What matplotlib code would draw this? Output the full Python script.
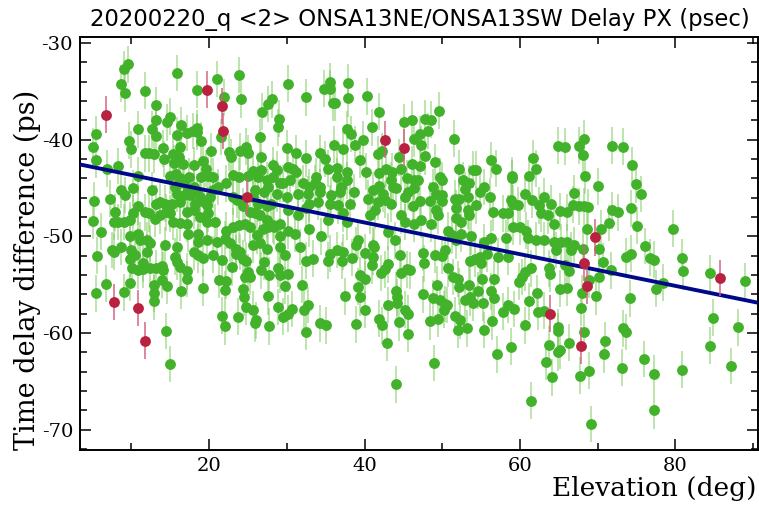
import matplotlib
matplotlib.use("Agg")
import matplotlib.pyplot as plt
import numpy as np
from matplotlib.ticker import MultipleLocator

plt.rcParams["axes.unicode_minus"] = False

# accepted points: elevation (deg) and delay difference (ps)
elev_ok = [
    9.6, 9.1, 8.7, 9.2, 11.8, 15.9, 18.4, 21.0, 21.9, 23.8, 24.1, 30.1, 32.5, 26.8, 27.6, 28.1, 29.0, 28.9,
    13.2, 13.1, 14.6, 15.0, 16.4, 10.9, 12.7, 13.1, 15.8, 16.2, 17.2, 17.9, 18.4, 18.5, 18.9, 20.3, 21.5,
    5.4, 5.0, 9.7, 9.9, 11.7, 12.3, 12.9, 14.0, 14.2, 15.3, 15.5, 16.1, 16.6, 18.1, 19.2, 19.6, 20.5,
    22.6, 22.8, 24.0, 24.7, 25.0, 26.6, 26.7, 30.0, 31.2, 32.5, 5.5, 6.9, 8.3, 10.8, 15.0, 15.7, 16.2,
    17.4, 18.9, 19.9, 23.1, 23.9, 25.0, 25.7, 26.3, 26.7, 28.2, 28.7, 28.2, 29.5, 30.2, 30.8, 31.2, 30.4,
    32.1, 31.4, 30.0, 29.1, 27.4, 27.6, 27.0, 25.9, 25.7, 26.3, 27.4, 28.0, 28.7, 32.5, 31.4, 30.2, 29.1,
    28.4, 27.4, 26.5, 25.9, 25.2, 24.4, 23.6, 23.1, 22.2, 21.2, 20.5, 20.1, 19.4, 18.8, 18.4, 18.0, 17.3,
    16.7, 16.1, 15.6, 15.8, 16.7, 17.5, 18.2, 19.7, 19.9, 20.7, 19.7, 18.8, 18.0, 17.1, 16.2, 15.2, 14.3,
    13.7, 13.2, 12.6, 10.2, 9.2, 8.7, 7.2, 5.2, 7.9, 7.7, 8.3, 9.0, 9.8, 10.2, 10.9, 11.7, 12.2, 13.0,
    13.7, 14.5, 15.0, 15.4, 16.2, 17.1, 17.3, 18.6, 18.6, 19.7, 21.0, 22.0, 22.2, 23.1, 23.9, 24.6, 25.2,
    26.1, 26.9, 27.6, 28.2, 29.1, 30.2, 31.0, 31.7, 5.1, 6.1, 7.5, 8.7, 9.8, 10.9, 11.1, 12.0, 12.4,
    14.3, 15.8, 22.7, 23.5, 25.7, 26.5, 27.4,
    # lower left
    5.6, 7.7, 10.0, 9.8, 10.5, 12.0, 15.6, 15.8, 16.2, 17.1, 17.1, 18.0, 18.6, 19.2, 20.5, 21.7, 23.5,
    24.0, 24.4, 24.8, 10.1, 10.9, 11.5, 11.5, 12.4, 13.2, 13.9, 14.0, 13.9, 12.9, 14.6, 12.9, 12.9, 9.8,
    9.1, 6.7, 5.4, 16.4, 19.2, 21.3, 22.2, 22.0, 23.0, 25.0, 24.6, 25.3, 24.4, 24.5, 24.7, 25.6, 26.0,
    25.9, 23.7, 21.7, 22.0, 27.7, 27.6, 27.7, 26.7, 27.0, 28.8, 29.1, 30.2, 29.7, 32.4, 32.0, 29.8, 28.9,
    29.5, 30.2, 30.7, 32.2, 32.7, 32.5, 14.5, 14.9, 29.1,
    # upper middle
    35.6, 36.2, 34.8, 35.5, 36.0, 37.9, 37.9, 40.3, 41.8, 41.0, 37.7, 38.3, 38.8, 39.8, 36.1, 37.2, 34.2,
    34.9, 39.4, 41.7, 42.2, 45.1, 46.1, 47.8, 48.5, 48.2, 47.1, 46.3, 47.3, 47.8, 49.6, 51.5, 49.1, 46.1,
    47.1, 44.4, 44.7, 45.5, 46.4, 43.5, 42.7, 41.9, 40.2, 37.7, 36.4, 35.3, 33.8, 33.6, 32.9, 34.2, 36.4,
    37.0, 37.7, 38.7, 36.8, 35.7, 35.5, 34.0, 32.9, 36.6, 38.1, 40.4, 41.1, 41.9, 42.4, 43.4, 43.7, 44.1,
    42.6, 43.4, 45.2, 45.6, 46.4, 46.9, 48.8, 49.2, 49.9, 49.7, 50.0, 48.4, 49.2, 49.9, 51.6, 52.2, 52.2,
    53.9, 54.4, 52.7, 53.5, 52.9, 53.3, 54.8, 55.4, 54.4, 51.8, 51.8, 52.4, 53.3, 53.5, 56.1, 56.3, 56.9,
    59.0, 59.0, 58.9, 59.1, 59.7, 60.6, 61.2, 61.7, 56.5, 57.8, 58.5, 59.1, 60.0, 60.8, 61.0, 58.2, 56.3,
    55.4, 53.7, 52.4, 51.2, 50.7, 49.4, 48.6, 47.3, 46.4, 45.2, 44.7, 43.0, 43.9, 41.1, 39.2, 38.9, 37.7,
    37.2, 35.3, 34.4, 32.8, 32.7, 34.2, 40.7, 41.3, 41.7, 46.2, 47.1, 51.8,
    # lower middle
    33.4, 34.2, 35.0, 35.5, 35.3, 36.5, 37.2, 37.1, 38.4, 40.1, 41.1, 41.0, 41.2, 39.4, 40.0, 39.2, 39.4,
    37.5, 40.1, 38.9, 42.1, 42.6, 43.0, 41.9, 42.3, 42.9, 43.0, 44.1, 44.2, 44.2, 44.4, 45.2, 45.6, 45.6,
    44.6, 44.7, 45.4, 45.9, 47.5, 47.7, 47.5, 48.8, 49.3, 49.7, 50.3, 50.2, 50.6, 48.4, 49.4, 49.0, 49.9,
    50.3, 50.8, 51.4, 52.0, 52.1, 51.7, 52.3, 52.0, 53.2, 53.5, 52.9, 53.6, 53.9, 54.6, 55.0, 55.1, 55.2,
    53.6, 54.2, 54.8, 55.7, 56.3, 56.7, 56.6, 57.2, 58.4, 57.8, 58.5, 59.2, 59.9, 60.2, 60.6, 61.4, 61.2,
    60.7, 57.1, 58.9, 55.4, 56.4, 48.9, 44.1, 61.4,
    # upper right
    64.9, 65.8, 67.6, 68.2, 68.1, 68.4, 71.8, 73.3, 74.4, 74.9, 75.6, 70.0, 62.0, 63.1, 64.0, 61.6, 62.5,
    62.7, 63.6, 65.1, 66.1, 66.8, 67.6, 68.3, 68.8, 66.9, 64.4, 68.6, 70.4, 71.5, 71.9, 72.6, 74.3, 75.0,
    76.1, 79.7, 62.1, 63.1, 64.4, 65.3, 66.1, 67.0, 68.1, 70.2,
    # lower right
    62.2, 62.3, 63.1, 63.7, 63.9, 65.2, 66.1, 66.3, 65.8, 66.6, 64.6, 70.7, 71.7, 70.2, 69.8, 68.9, 68.0,
    67.9, 68.3, 64.9, 64.9, 63.7, 63.4, 64.1, 64.9, 65.2, 66.3, 67.7, 68.9, 70.9, 70.8, 73.1, 73.2, 73.6,
    74.2, 73.7, 74.3, 76.7, 77.3, 77.5, 78.4, 76.0, 77.2, 77.2, 80.8, 81.0, 80.9, 84.4, 84.8, 84.4, 87.1,
    88.1, 88.9, 69.1,
]
delay_ok = [
    -32.2, -32.7, -34.2, -35.2, -34.9, -33.1, -34.8, -33.7, -35.6, -33.3, -35.8, -34.2, -35.6, -37.1, -36.3, -35.8, -37.8, -38.7,
    -36.4, -38.0, -38.2, -37.6, -38.5, -38.9, -38.9, -39.6, -39.5, -40.7, -39.3, -39.1, -38.8, -39.2, -40.1, -41.2, -39.7,
    -39.4, -40.7, -40.1, -41.0, -41.4, -41.4, -41.5, -40.9, -42.0, -41.5, -42.4, -41.8, -42.5, -42.6, -42.2, -43.0, -43.8,
    -41.3, -41.8, -41.2, -40.7, -41.4, -39.7, -41.8, -40.9, -41.4, -41.9, -42.1, -43.0, -42.7, -43.7, -43.7, -43.5, -44.0,
    -43.8, -43.9, -43.7, -43.6, -43.8, -43.7, -43.2, -43.8, -43.1, -42.6, -43.1, -43.8, -44.5, -42.8, -43.0, -43.3, -44.2,
    -44.5, -45.6, -45.9, -44.5, -44.2, -44.9, -45.4, -45.2, -45.9, -46.6, -46.9, -46.6, -45.6, -47.1, -47.8, -47.3, -48.7,
    -49.0, -48.3, -47.8, -47.6, -47.5, -46.9, -46.2, -45.9, -44.5, -44.9, -45.2, -45.9, -46.4, -45.9, -45.4, -44.9, -45.2,
    -44.5, -44.5, -44.9, -45.6, -45.7, -45.7, -46.6, -46.8, -47.6, -48.5, -48.5, -48.0, -47.3, -47.5, -46.4, -46.6, -46.6,
    -46.4, -46.6, -45.2, -45.0, -45.7, -45.2, -46.1, -46.3, -47.5, -48.5, -48.5, -48.5, -48.3, -47.6, -46.9, -47.5, -47.6, -48.2,
    -47.8, -47.5, -47.6, -48.5, -48.6, -48.7, -49.7, -49.7, -50.6, -50.4, -50.6, -50.3, -49.4, -49.0, -48.8, -48.7, -49.0,
    -49.9, -49.2, -49.0, -48.8, -50.0, -49.4, -49.7, -51.1, -48.4, -49.5, -51.4, -51.1, -50.0, -49.7, -50.4, -50.4, -50.7,
    -50.9, -51.1, -50.7, -51.3, -50.9, -50.7, -51.3,
    # lower left
    -52.0, -51.6, -51.4, -52.3, -51.9, -51.6, -52.1, -52.6, -53.2, -53.6, -54.4, -51.6, -51.9, -52.2, -51.9, -52.4, -51.8,
    -51.6, -52.3, -52.5, -53.3, -53.5, -52.8, -53.4, -53.3, -53.3, -53.1, -53.5, -54.5, -55.0, -55.1, -55.9, -56.7, -54.8,
    -55.8, -54.9, -55.9, -55.6, -55.3, -54.5, -54.6, -55.5, -53.2, -53.7, -54.2, -54.2, -55.4, -56.3, -57.3, -57.6, -58.7,
    -59.0, -58.3, -58.2, -59.3, -59.3, -56.2, -54.0, -53.5, -52.6, -53.3, -54.0, -53.9, -51.9, -52.5, -55.0, -55.1, -57.3,
    -58.3, -58.0, -57.5, -57.6, -57.1, -59.9, -59.8, -63.2, -51.1,
    # upper middle
    -34.7, -36.2, -34.7, -34.0, -36.2, -34.1, -35.7, -35.5, -37.1, -38.7, -38.9, -39.4, -40.5, -40.0, -40.5, -41.0, -41.4,
    -42.0, -42.1, -41.5, -41.2, -38.2, -37.9, -37.8, -37.9, -39.1, -39.4, -39.9, -40.5, -41.7, -37.0, -39.9, -42.3, -42.5,
    -42.7, -41.8, -43.0, -44.0, -44.2, -43.3, -43.0, -43.4, -43.3, -43.3, -42.9, -43.0, -43.8, -44.5, -44.9, -44.9, -43.8,
    -44.9, -44.2, -45.4, -45.4, -45.7, -46.6, -46.4, -46.6, -46.8, -46.6, -46.1, -45.2, -44.8, -45.6, -44.2, -44.9, -45.0,
    -46.2, -46.6, -45.9, -45.4, -45.0, -44.2, -44.9, -45.6, -45.7, -43.8, -44.2, -46.3, -47.3, -46.3, -46.1, -46.1, -43.0,
    -43.1, -43.1, -44.2, -44.5, -45.1, -45.9, -45.4, -44.9, -46.8, -47.1, -48.1, -48.5, -47.3, -47.8, -45.9, -42.1, -43.0,
    -43.7, -44.0, -46.2, -46.6, -46.8, -45.6, -43.7, -41.9, -47.5, -47.6, -47.6, -49.0, -49.0, -49.4, -50.2, -50.2, -50.2,
    -50.6, -50.0, -49.7, -49.9, -49.4, -47.8, -48.7, -48.3, -48.7, -48.5, -47.8, -49.5, -50.4, -50.9, -50.4, -50.9, -48.5,
    -47.6, -48.3, -50.0, -49.2, -45.6, -45.4, -47.8, -47.3, -46.4, -46.9, -46.3, -50.4,
    # lower middle
    -52.3, -59.0, -59.2, -51.8, -52.5, -51.4, -51.6, -52.5, -52.2, -51.7, -52.1, -53.0, -51.1, -54.0, -54.4, -55.2, -56.3,
    -56.2, -57.6, -59.1, -53.8, -53.4, -52.9, -58.5, -59.2, -61.0, -57.1, -55.6, -56.3, -56.9, -58.9, -57.6, -58.0, -60.1,
    -51.9, -53.8, -53.4, -53.5, -51.7, -52.8, -56.0, -56.4, -55.0, -56.6, -57.0, -57.6, -57.1, -58.8, -58.5, -51.9, -52.0,
    -51.4, -53.3, -54.2, -54.4, -55.2, -58.2, -58.7, -59.7, -59.5, -55.0, -56.6, -56.3, -56.9, -55.6, -52.8, -54.4, -56.9,
    -52.5, -52.3, -52.1, -51.8, -55.7, -56.4, -54.4, -52.1, -52.1, -57.8, -57.1, -57.5, -54.7, -54.2, -53.7, -53.3, -56.7,
    -59.2, -62.2, -61.4, -59.7, -58.8, -63.1, -65.3, -67.0,
    # upper right
    -40.6, -40.7, -40.6, -39.9, -41.6, -43.7, -40.6, -40.7, -42.6, -44.6, -45.6, -44.8, -43.0, -45.9, -46.6, -46.2, -46.8,
    -47.6, -47.8, -47.4, -47.5, -46.7, -46.9, -46.9, -47.0, -45.5, -48.7, -49.2, -49.2, -48.6, -47.3, -47.5, -47.1, -48.9,
    -51.0, -49.2, -50.4, -50.4, -50.6, -50.6, -50.6, -50.9, -51.3, -51.3,
    # lower right
    -55.9, -57.8, -57.7, -53.3, -53.9, -55.4, -55.3, -53.6, -53.0, -51.4, -51.4, -52.6, -53.5, -54.2, -56.2, -54.5, -55.9,
    -57.4, -59.9, -59.4, -59.8, -61.2, -63.0, -64.6, -62.0, -61.8, -61.0, -64.4, -63.9, -60.8, -62.2, -63.6, -59.5, -59.9,
    -56.4, -52.1, -51.8, -52.2, -52.4, -55.4, -54.8, -62.7, -64.2, -68.0, -52.2, -53.6, -63.8, -53.8, -58.4, -61.3, -63.4,
    -59.4, -54.6, -69.4,
]

# rejected points
elev_bad = [6.7, 19.7, 21.7, 21.8, 24.9, 42.6, 45.1, 69.7, 7.7, 10.9, 11.8, 68.3, 68.6, 63.8, 67.8, 85.8]
delay_bad = [-37.4, -34.8, -36.5, -39.1, -45.9, -40.0, -40.8, -50.1, -56.8, -57.4, -60.8, -52.7, -55.1, -58.0, -61.3, -54.3]

delay_err = 1.9

# fitted trend
fit_slope = -0.164
fit_offset = -42.0

fig = plt.figure(figsize=(7.59, 5.05), dpi=100)
ax = fig.add_axes([0.1054, 0.109, 0.893, 0.817])

ax.errorbar(elev_ok, delay_ok, yerr=delay_err, fmt="none", ecolor="#7ccc5c",
            elinewidth=1.3, alpha=0.55, zorder=1)
ax.plot(elev_ok, delay_ok, "o", color="#42b22a", markersize=7.8, markeredgewidth=0, zorder=2)

xfit = np.array([0, 95])
ax.plot(xfit, fit_offset + fit_slope * xfit, color="#00088a", lw=2.8, zorder=3)

ax.errorbar(elev_bad, delay_bad, yerr=delay_err, fmt="none", ecolor="#d0607a",
            elinewidth=1.3, alpha=0.8, zorder=4)
ax.plot(elev_bad, delay_bad, "o", color="#b82240", markersize=7.8, markeredgewidth=0, zorder=5)

ax.set_xlim(3.38, 90.6)
ax.set_ylim(-72.1, -29.4)
ax.xaxis.set_major_locator(MultipleLocator(20))
ax.xaxis.set_minor_locator(MultipleLocator(10))
ax.yaxis.set_major_locator(MultipleLocator(10))
ax.yaxis.set_minor_locator(MultipleLocator(2))
ax.tick_params(which="both", direction="in", top=True, right=True, width=1.1)
ax.tick_params(which="major", length=8, labelsize=14, pad=5)
ax.tick_params(which="minor", length=5)
for lab in ax.get_xticklabels() + ax.get_yticklabels():
    lab.set_family("DejaVu Serif")
for sp in ax.spines.values():
    sp.set_linewidth(1.4)

fig.text(0.5534, 0.9485, "20200220_q <2> ONSA13NE/ONSA13SW Delay PX (psec)",
         ha="center", va="baseline", fontsize=16.4, family="DejaVu Sans")
fig.text(0.997, 0.018, "Elevation (deg)", ha="right", va="baseline",
         fontsize=19, family="DejaVu Serif")
fig.text(0.036, 0.465, "Time delay difference (ps)", ha="center", va="center",
         rotation=90, fontsize=19.5, family="DejaVu Serif")

fig.savefig("out.png", dpi=100)
